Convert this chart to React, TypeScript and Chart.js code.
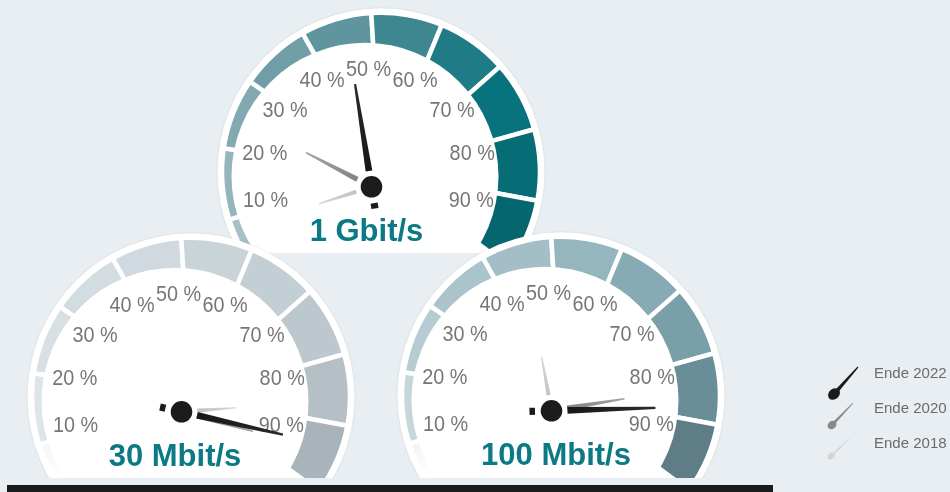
import React, { useEffect, useRef } from 'react';
import { Chart, registerables } from 'chart.js';

Chart.register(...registerables);

// ---------- data ----------
const categories = ['1 Gbit/s', '30 Mbit/s', '100 Mbit/s'];
const seriesNames = ['Ende 2022', 'Ende 2020', 'Ende 2018'];
const values2022 = [46.5, 89.5, 84];
const values2020 = [26, 90.5, 81];
const values2018 = [8.5, 83, 46];
const tickValues = [10, 20, 30, 40, 50, 60, 70, 80, 90];
const tickLabels = ['10 %', '20 %', '30 %', '40 %', '50 %', '60 %', '70 %', '80 %', '90 %'];
const segmentLabels = ['0–10 %', '10–20 %', '20–30 %', '30–40 %', '40–50 %', '50–60 %', '60–70 %', '70–80 %', '80–90 %', '90–100 %'];
const segmentShares = [10, 10, 10, 10, 10, 10, 10, 10, 10, 10];

const colors1G = ['#a6c0c6', '#95b5bc', '#82a9b1', '#6f9ea7', '#5f959e', '#3e8790', '#1f7c86', '#08737c', '#066d76', '#05666e'];
const colors30M = ['#e3e9ec', '#dee5e9', '#d8e0e4', '#d3dce1', '#cfd9df', '#c9d4d9', '#c3cfd4', '#bcc8ce', '#b4c0c5', '#a8b4b9'];
const colors100M = ['#d6e2e6', '#c6d7dc', '#b6cbd2', '#abc4cb', '#a3bec6', '#95b6be', '#86abb4', '#799fa9', '#6a8e97', '#5e7d86'];
const gaugeColors = [colors1G, colors30M, colors100M];

// ---------- layout / style ----------
const GAUGE_HUBS: [number, number][] = [[371, 186.5], [181, 411.5], [551.5, 411]];
const CLIP_BOTTOM = [253, 478, 478];
const TITLE_DX = [-5, -6.5, 4.5];
const FADE_FIRST = [false, true, true];
const RING_DX = 9.5;
const RING_DY = -15;
const RING_R = 159;
const RIM = 4.5;
const FACE_DX = -6.5;
const FACE_DY = -10.5;
const FACE_R = 133.5;
const LABEL_DX = -3;
const LABEL_DY = -11;
const LABEL_R = 106;
const DIAL_START = 220; // math degrees of 0 %
const DIAL_SWEEP = 260;
const RING_TWIST = 3.5;
const TEAL = '#0b7a84';
const BG = '#e8eef1';

const NEEDLES = [
  { r1: 104, w0: 3.4, w1: 1.1, c0: '#151515', c1: '#2a2a2a' },
  { r1: 74, w0: 2.7, w1: 0.8, c0: '#7e797b', c1: '#a7a3a5' },
  { r1: 55, w0: 2.1, w1: 0.6, c0: '#bdbbbc', c1: '#d6d4d5' },
];

const valueToDeg = (v: number) => DIAL_START - (v / 100) * DIAL_SWEEP;

function needle(ctx: CanvasRenderingContext2D, hx: number, hy: number, deg: number, r0: number, r1: number, w0: number, w1: number, fill: string | CanvasGradient) {
  const a = (deg * Math.PI) / 180;
  const ux = Math.cos(a);
  const uy = -Math.sin(a);
  const px = -uy;
  const py = ux;
  ctx.beginPath();
  ctx.moveTo(hx + ux * r0 + px * w0, hy + uy * r0 + py * w0);
  ctx.lineTo(hx + ux * r1 + px * w1, hy + uy * r1 + py * w1);
  ctx.lineTo(hx + ux * r1 - px * w1, hy + uy * r1 - py * w1);
  ctx.lineTo(hx + ux * r0 - px * w0, hy + uy * r0 - py * w0);
  ctx.closePath();
  ctx.fillStyle = fill;
  ctx.fill();
}

function makeGaugePlugin(i: number) {
  return {
    id: 'gauge' + i,
    beforeDatasetsDraw(chart: any) {
      const arc = chart.getDatasetMeta(0).data[0];
      const ctx: CanvasRenderingContext2D = chart.ctx;
      ctx.save();
      ctx.beginPath();
      ctx.arc(arc.x, arc.y, arc.outerRadius + RIM, 0, Math.PI * 2);
      ctx.fillStyle = '#ffffff';
      ctx.shadowColor = 'rgba(120,140,150,0.25)';
      ctx.shadowBlur = 2;
      ctx.fill();
      ctx.restore();
    },
    afterDatasetsDraw(chart: any) {
      const arcs = chart.getDatasetMeta(0).data;
      const arc = arcs[0];
      const ctx: CanvasRenderingContext2D = chart.ctx;
      const hx = arc.x - RING_DX;
      const hy = arc.y - RING_DY;
      ctx.save();
      // fade first segment towards the bottom
      if (FADE_FIRST[i]) {
        ctx.save();
        ctx.beginPath();
        ctx.moveTo(arc.x, arc.y);
        ctx.arc(arc.x, arc.y, arc.outerRadius + 1, arc.startAngle, arc.endAngle);
        ctx.closePath();
        ctx.clip();
        const g = ctx.createLinearGradient(0, hy - 15, 0, hy + 60);
        g.addColorStop(0, 'rgba(255,255,255,0)');
        g.addColorStop(1, 'rgba(255,255,255,0.95)');
        ctx.fillStyle = g;
        ctx.fillRect(arc.x - arc.outerRadius - 5, hy - 20, 60, 120);
        ctx.restore();
      }
      // face
      ctx.beginPath();
      ctx.arc(hx + FACE_DX, hy + FACE_DY, FACE_R, 0, Math.PI * 2);
      ctx.fillStyle = '#ffffff';
      ctx.fill();
      // tick labels
      ctx.fillStyle = '#767676';
      ctx.font = '22px "Liberation Sans", Arial, sans-serif';
      ctx.textAlign = 'center';
      ctx.textBaseline = 'middle';
      tickValues.forEach((v, k) => {
        const a = (valueToDeg(v) * Math.PI) / 180;
        const x = hx + LABEL_DX + LABEL_R * Math.cos(a);
        const y = hy + LABEL_DY - LABEL_R * Math.sin(a);
        ctx.save();
        ctx.translate(x, y);
        ctx.scale(0.9, 1);
        ctx.fillText(tickLabels[k], 0, 0);
        ctx.restore();
      });
      // title
      ctx.fillStyle = TEAL;
      ctx.font = 'bold 31px "Liberation Sans", Arial, sans-serif';
      ctx.textBaseline = 'alphabetic';
      ctx.fillText(categories[i], hx + TITLE_DX[i], hy + 54);
      // needles: 2018, 2020, 2022
      const vals = [values2022[i], values2020[i], values2018[i]];
      for (let s = 2; s >= 0; s--) {
        const st = NEEDLES[s];
        const deg = valueToDeg(vals[s]);
        const a = (deg * Math.PI) / 180;
        const g = ctx.createLinearGradient(hx, hy, hx + Math.cos(a) * st.r1, hy - Math.sin(a) * st.r1);
        g.addColorStop(0, st.c0);
        g.addColorStop(1, st.c1);
        needle(ctx, hx, hy, deg, 16, st.r1, st.w0, st.w1, g);
      }
      // tail of main needle
      const tailDeg = valueToDeg(vals[0]) + 180;
      needle(ctx, hx, hy, tailDeg, 16.5, 22, 3.6, 3.6, '#1b1b1b');
      // hub
      ctx.beginPath();
      ctx.arc(hx, hy, 10.8, 0, Math.PI * 2);
      ctx.fillStyle = '#1c1c1c';
      ctx.fill();
      ctx.restore();
    },
  };
}

function Gauge({ index }: { index: number }) {
  const ref = useRef<HTMLCanvasElement>(null);
  useEffect(() => {
    const canvas = ref.current as HTMLCanvasElement;
    const chart = new Chart(canvas, {
      type: 'doughnut',
      data: {
        labels: segmentLabels,
        datasets: [
          {
            data: segmentShares,
            backgroundColor: gaugeColors[index],
            borderColor: '#ffffff',
            borderWidth: 4.5,
          },
        ],
      },
      options: {
        responsive: false,
        animation: false,
        events: [],
        rotation: -DIAL_SWEEP / 2 - RING_TWIST,
        circumference: DIAL_SWEEP,
        cutout: '68%',
        radius: RING_R,
        layout: { padding: 0 },
        plugins: { legend: { display: false }, tooltip: { enabled: false } },
      } as any,
      plugins: [makeGaugePlugin(index)],
    });
    const arc: any = chart.getDatasetMeta(0).data[0];
    const [hx, hy] = GAUGE_HUBS[index];
    canvas.style.left = `${hx + RING_DX - arc.x}px`;
    canvas.style.top = `${hy + RING_DY - arc.y}px`;
    return () => chart.destroy();
  }, [index]);
  return (
    <div style={{ position: 'absolute', left: 0, top: 0, width: 950, height: CLIP_BOTTOM[index], overflow: 'hidden' }}>
      <canvas ref={ref} width={380} height={380} style={{ position: 'absolute', left: 0, top: 0 }} />
    </div>
  );
}

function LegendIcon({ k }: { k: number }) {
  const cy = [393, 424, 455][k];
  const tip = [[858, 367], [853, 403], [849, 439]][k];
  const bx = [835, 833, 832][k];
  const col = ['#1b1b1b', '#8c8889', '#d5d3d4'][k];
  const rb = [6.5, 4.8, 3.8][k];
  const w0 = [2.0, 1.4, 1.0][k];
  const dx = tip[0] - bx;
  const dy = tip[1] - cy;
  const len = Math.hypot(dx, dy);
  const px = (-dy / len) * w0;
  const py = (dx / len) * w0;
  const pts = `${bx + px},${cy + py} ${tip[0] + px * 0.3},${tip[1] + py * 0.3} ${tip[0] - px * 0.3},${tip[1] - py * 0.3} ${bx - px},${cy - py}`;
  return (
    <g>
      <polygon points={pts} fill={col} />
      <ellipse cx={bx - 1} cy={cy + 1} rx={rb} ry={rb * 0.8} fill={col} transform={`rotate(-40 ${bx - 1} ${cy + 1})`} />
    </g>
  );
}

export default function App() {
  const textY = [374, 409, 444];
  return (
    <div style={{ position: 'fixed', left: 0, top: 0, width: 950, height: 492, background: BG, overflow: 'hidden' }}>
      <Gauge index={0} />
      <Gauge index={1} />
      <Gauge index={2} />
      <div style={{ position: 'absolute', left: 7, top: 485, width: 766, height: 10, background: '#1a1a1a' }} />
      <svg style={{ position: 'absolute', left: 0, top: 0 }} width={950} height={492}>
        {[0, 1, 2].map((k) => (
          <LegendIcon key={k} k={k} />
        ))}
      </svg>
      {seriesNames.map((n, k) => (
        <div
          key={n}
          style={{
            position: 'absolute',
            left: 874,
            top: textY[k] - 10,
            height: 20,
            lineHeight: '20px',
            font: '15px "Liberation Sans", Arial, sans-serif',
            color: '#6b6b6b',
            whiteSpace: 'nowrap',
          }}
        >
          {n}
        </div>
      ))}
    </div>
  );
}
